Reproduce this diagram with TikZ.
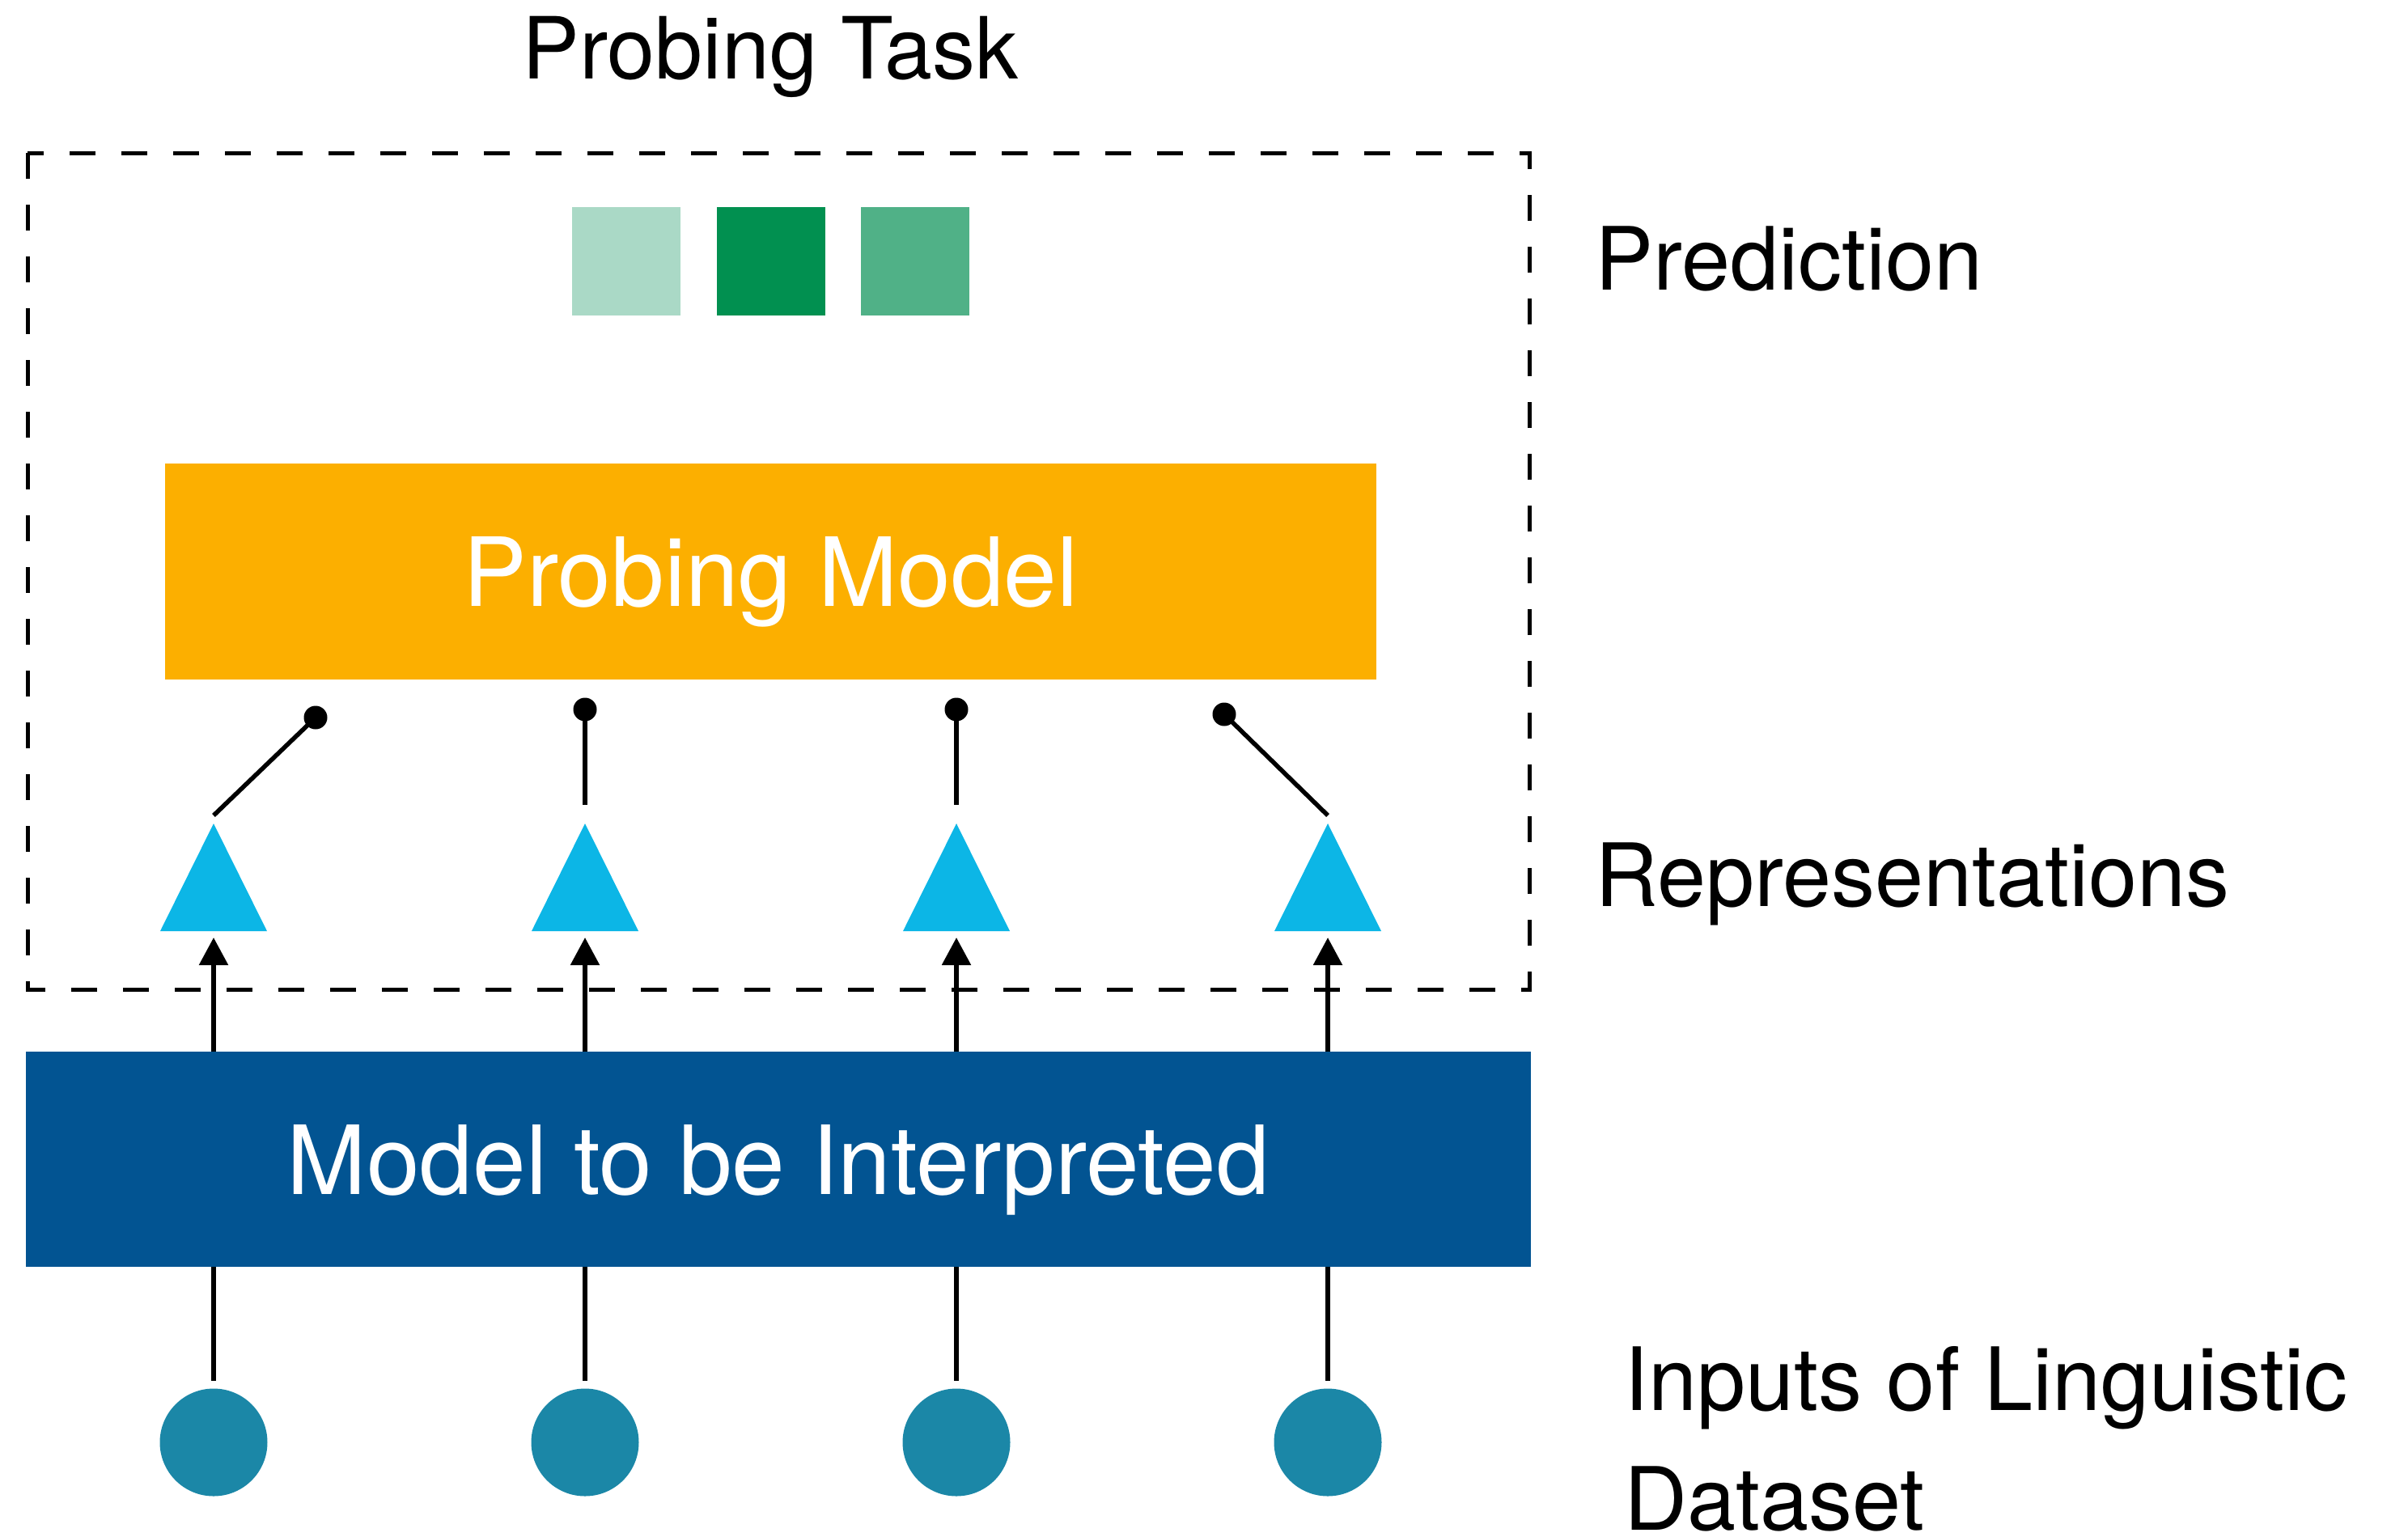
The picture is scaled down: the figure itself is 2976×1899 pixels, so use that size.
\documentclass[tikz,border=0pt]{standalone}
\usepackage{fontspec}
\setmainfont{TeX Gyre Heros}
\usetikzlibrary{arrows.meta}
\definecolor{orangebox}{RGB}{252,175,0}
\definecolor{bluebox}{RGB}{2,84,146}
\definecolor{tricol}{RGB}{12,182,230}
\definecolor{circcol}{RGB}{27,135,167}
\definecolor{gA}{RGB}{170,217,198}
\definecolor{gB}{RGB}{1,144,80}
\definecolor{gC}{RGB}{80,177,135}
\tikzset{
  lbl/.style={inner sep=0pt, anchor=base west, font=\fontsize{108pt}{150pt}\selectfont},
  boxtxt/.style={inner sep=0pt, anchor=base, text=white, font=\fontsize{118pt}{140pt}\selectfont},
  conn/.style={line width=5.5pt},
  arr/.style={line width=5.5pt, -{Triangle[width=35pt,length=34pt]}},
  dotnode/.style={circle, fill=black, inner sep=0pt, minimum size=29pt},
  inputnode/.style={circle, fill=circcol, inner sep=0pt, minimum size=133pt},
  tri/.style={fill=tricol},
  sq/.style={inner sep=0pt, minimum width=134pt, minimum height=134pt},
  dashbox/.style={line width=5pt, dash pattern=on 32pt off 32pt}
}
\begin{document}
\begin{tikzpicture}[x=1pt,y=-1pt]
\useasboundingbox (0,0) rectangle (2976,1899);
% dashed probing task box
\draw[dashbox] (34,189) rectangle (1890,1223);
\node[lbl, anchor=base, font=\fontsize{106pt}{150pt}\selectfont] (title) at (952,97) {Probing Task};
% prediction squares
\node[sq, fill=gA] (s1) at (774,323) {};
\node[sq, fill=gB] (s2) at (953,323) {};
\node[sq, fill=gC] (s3) at (1131,323) {};
% probing model
\node[fill=orangebox, minimum width=1497pt, minimum height=267pt, inner sep=0pt] (pm) at (952.5,706.5) {};
\node[boxtxt] (pmt) at (952.5,749) {Probing Model};
% model to be interpreted
\node[fill=bluebox, minimum width=1860pt, minimum height=266pt, inner sep=0pt] (mi) at (962,1433) {};
\node[boxtxt] (mit) at (962,1476) {Model to be Interpreted};
% triangles, inputs, arrows
\foreach \i/\x in {1/264,2/723,3/1182,4/1641}{
  \fill[tri] (\x,1018) -- (\x+66,1151) -- (\x-66,1151) -- cycle;
  \coordinate (tb\i) at (\x,1159);
  \coordinate (mt\i) at (\x,1300);
  \coordinate (mb\i) at (\x,1566);
  \coordinate (it\i) at (\x,1707);
  \node[inputnode] (in\i) at (\x,1783) {};
  \draw[arr] (mt\i) -- (tb\i);
  \draw[conn] (mb\i) -- (it\i);
}
% dots and links
\node[dotnode] (d1) at (390,887) {};
\node[dotnode] (d2) at (723,877) {};
\node[dotnode] (d3) at (1182,877) {};
\node[dotnode] (d4) at (1513,883) {};
\coordinate (ta1) at (264,1008);
\coordinate (ta2) at (723,995);
\coordinate (ta3) at (1182,995);
\coordinate (ta4) at (1641,1008);
\foreach \i in {1,2,3,4}{\draw[conn] (ta\i) -- (d\i.center);}
% labels
\node[lbl] (pred) at (1971,358) {Prediction};
\node[lbl] (rep) at (1971,1120) {Representations};
\node[lbl] (inp) at (2007,1743) {Inputs of Linguistic};
\node[lbl] (inp2) at (2007,1891) {Dataset};
\end{tikzpicture}
\end{document}
